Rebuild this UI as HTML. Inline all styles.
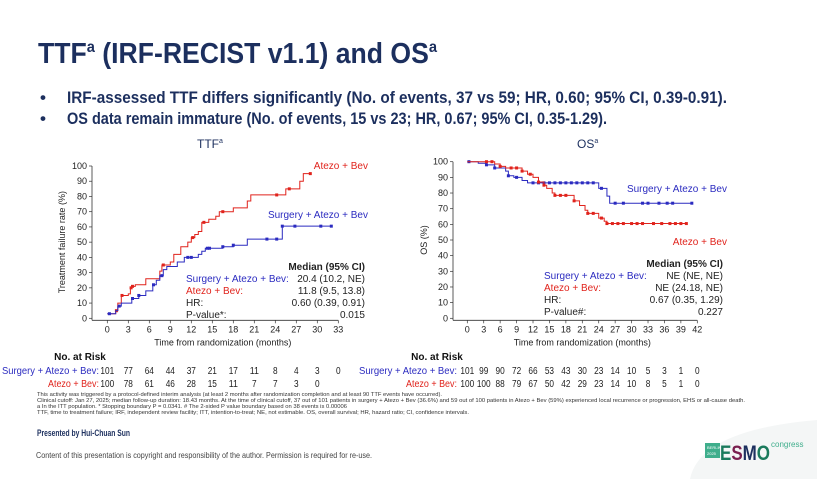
<!DOCTYPE html>
<html><head><meta charset="utf-8"><style>
html,body{margin:0;padding:0;background:#fff;}
svg{display:block;font-family:"Liberation Sans Narrow","Liberation Sans",sans-serif;}
</style></head><body>
<svg id="s" width="817" height="479" viewBox="0 0 817 479">
<rect x="0" y="0" width="817" height="479" fill="#fff"/>
<path d="M690 479 Q700 430 817 420 L817 479 Z" fill="#f4f6f6"/>
<text x="38" y="63" font-size="29" font-weight="bold" fill="#1c2f5e" textLength="399" lengthAdjust="spacingAndGlyphs">TTF<tspan font-size="16" dy="-11">a</tspan><tspan dy="11"> (IRF-RECIST v1.1) and OS</tspan><tspan font-size="16" dy="-11">a</tspan></text>
<g font-size="17" font-weight="bold" fill="#1c2f5e">
<text x="40" y="103">•</text>
<text x="67" y="103" textLength="660" lengthAdjust="spacingAndGlyphs">IRF-assessed TTF differs significantly (No. of events, 37 vs 59; HR, 0.60; 95% CI, 0.39-0.91).</text>
<text x="40" y="124">•</text>
<text x="67" y="124" textLength="540" lengthAdjust="spacingAndGlyphs">OS data remain immature (No. of events, 15 vs 23; HR, 0.67; 95% CI, 0.35-1.29).</text>
</g>
<text x="197" y="148" font-size="12" fill="#1c2f5e">TTF<tspan font-size="7" dy="-5">a</tspan></text>
<text x="577" y="148" font-size="12" fill="#1c2f5e">OS<tspan font-size="7" dy="-5">a</tspan></text>
<g id="c1"></g><g id="c2"></g>
<g font-size="5" fill="#333">
<text x="37" y="396" textLength="405" lengthAdjust="spacingAndGlyphs">This activity was triggered by a protocol-defined interim analysis (at least 2 months after randomization completion and at least 90 TTF events have occurred).</text>
<text x="37" y="402" textLength="708" lengthAdjust="spacingAndGlyphs">Clinical cutoff: Jan 27, 2025; median follow-up duration: 18.43 months. At the time of clinical cutoff, 37 out of 101 patients in surgery + Atezo + Bev (36.6%) and 59 out of 100 patients in Atezo + Bev (59%) experienced local recurrence or progression, EHS or all-cause death.</text>
<text x="37" y="408" textLength="310" lengthAdjust="spacingAndGlyphs">a In the ITT population. * Stopping boundary P = 0.0341. # The 2-sided P value boundary based on 38 events is 0.00006</text>
<text x="37" y="414" textLength="432" lengthAdjust="spacingAndGlyphs">TTF, time to treatment failure; IRF, independent review facility; ITT, intention-to-treat; NE, not estimable. OS, overall survival; HR, hazard ratio; CI, confidence intervals.</text>
</g>
<text x="37" y="436" font-size="9" font-weight="bold" fill="#1c2f5e" textLength="93" lengthAdjust="spacingAndGlyphs">Presented by Hui-Chuan Sun</text>
<text x="36" y="458" font-size="8" fill="#444" textLength="336" lengthAdjust="spacingAndGlyphs">Content of this presentation is copyright and responsibility of the author. Permission is required for re-use.</text>
<g>
<rect x="705" y="443" width="15" height="15" fill="#3fae8c"/>
<text x="707" y="449" font-size="4" fill="#fff">BERLIN</text><text x="707" y="455" font-size="4" fill="#fff">2025</text>
<text x="720" y="460" font-size="21" font-weight="bold" fill="#1a7a5c" textLength="50" lengthAdjust="spacingAndGlyphs">E<tspan fill="#7a1f4f">S</tspan><tspan fill="#1c2f5e">M</tspan>O</text>
<text x="771" y="447" font-size="8" fill="#3fae8c">congress</text>
</g>
</svg>
<script>
// ---- TTF data ----
const ttfTicksX=[0,3,6,9,12,15,18,21,24,27,30,33];
const ttfTicksY=[0,10,20,30,40,50,60,70,80,90,100];
const ttfRedT=[0,1.2,1.5,2,3,3.3,3.5,4,5.5,7.5,7.8,9,9.5,10.5,11.5,12,12.5,13,13.5,14.5,15.5,16,18,20,20.5,25.5,27.5,28];
const ttfRedV=[3,5,10,15,16,20,21,22,26,31,35,37,42,47,50,53,55,57,63,65,67,70,72.5,77,81,85,90,95];
const ttfRedEnd=29;
const ttfBlueT=[0,1.2,1.5,2,3.5,4.5,5.5,6.5,7,7.5,8,8.5,10,11,13,13.5,14,16.5,18,20,25];
const ttfBlueV=[3,5,8,10,13,15,18,22,25,28,32,34,37,40,42,44,46,47,48,52,60.5];
const ttfBlueEnd=32;
const ttfRedCens=[1.3,2.1,3.4,3.6,8,12.2,13.8,16.5,24.2,26,29];
const ttfBlueCens=[0.3,1.7,3.6,4.5,6.6,7.8,11.5,12,14.3,14.6,16.5,18,22.8,24.2,25,26.8,30.5,32];
const ttfRiskBlue=[101,77,64,44,37,21,17,11,8,4,3,0];
const ttfRiskRed=[100,78,61,46,28,15,11,7,7,3,0];
// ---- OS data ----
const osTicksX=[0,3,6,9,12,15,18,21,24,27,30,33,36,39,42];
const osTicksY=[0,10,20,30,40,50,60,70,80,90,100];
const osBlueT=[0,2,3.5,5,7,7.5,8.5,10,11,24,25.5,26];
const osBlueV=[100,99,98,96,94,91,90,88,86.5,83,78,73.5];
const osBlueEnd=41;
const osRedT=[0,5,6,7,10,11,12,13,14,14.5,15.5,16,19.5,20.5,21.5,22,24,25,25.5];
const osRedV=[100,98.5,97,96,94,92,90,87,85,83,80,78.5,75,72,69,67,64,62,60.5];
const osRedEnd=40;
const osBlueCens=[0.3,3.5,5,7.5,9,12,13,14,15,16,17,18,19,20,21,22,23,24.5,27,28.5,32,33,35,36.5,37.5,41];
const osRedCens=[3.5,4.5,6,8,9,10,11.5,13,14,16,17,18,19.5,22,23,24.5,25.5,26.5,27.5,28.5,30,31,32,34,35.5,37,38,39,40];
const osRiskBlue=[101,99,90,72,66,53,43,30,23,14,10,5,3,1,0];
const osRiskRed=[100,100,88,79,67,50,42,29,23,14,10,8,5,1,0];

const NS='http://www.w3.org/2000/svg';
const RED='#e0231c',BLUE='#2b2bc0';
function mk(p,tag,at){const e=document.createElementNS(NS,tag);for(const k in at)e.setAttribute(k,at[k]);p.appendChild(e);return e;}
function txt(p,x,y,s,at){const e=mk(p,'text',Object.assign({x:x,y:y},at));e.textContent=s;return e;}

function chart(g,o){
  const sx=t=>o.x0+(t-o.xmin)*(o.x1-o.x0)/(o.xmax-o.xmin);
  const sy=v=>o.y0-(v)*(o.y0-o.y1)/100;
  const ax=mk(g,'path',{d:`M${o.axX} ${sy(100)} V${o.y0+2} M${o.axX} ${o.y0+2} H${sx(o.xmax)}`,stroke:'#333',fill:'none','stroke-width':0.8});
  
  
  o.ty.forEach(v=>{
    mk(g,'line',{x1:o.axX-3,x2:o.axX,y1:sy(v),y2:sy(v),stroke:'#333','stroke-width':0.7});
    const t=txt(g,o.axX-5,sy(v)+3,String(v),{'font-size':9,'text-anchor':'end',fill:'#222'});
    
    
  });
  o.tx.forEach(v=>{
    mk(g,'line',{x1:sx(v),x2:sx(v),y1:o.y0+2,y2:o.y0+5,stroke:'#333','stroke-width':0.7});
    const t=txt(g,sx(v),o.y0+14,String(v),{'font-size':9,'text-anchor':'middle',fill:'#222'});
    
    
  });
  const xt=txt(g,(sx(0)+sx(o.xmax))/2,o.y0+27,'Time from randomization (months)',{'font-size':9,'text-anchor':'middle',fill:'#222'});
  
  
  const yc=(sy(0)+sy(100))/2;
  const yt=txt(g,o.ytX,yc,o.ytitle,{'font-size':9,'text-anchor':'middle',fill:'#222',transform:`rotate(-90 ${o.ytX} ${yc})`});
  
  
  o.series.forEach(s=>{
    let d=`M${sx(s.t[0])} ${sy(s.v[0])}`;
    for(let i=1;i<s.t.length;i++){d+=` H${sx(s.t[i])} V${sy(s.v[i])}`;}
    d+=` H${sx(s.end)}`;
    const p=mk(g,'path',{d:d,stroke:s.c,fill:'none','stroke-width':1});
    
    
    s.cens.forEach(t=>{
      let v=s.v[0];for(let i=0;i<s.t.length;i++)if(s.t[i]<=t)v=s.v[i];
      const r=mk(g,'rect',{x:sx(t)-1.5,y:sy(v)-1.5,width:3,height:3,fill:s.c});
      
      
    });
    const l=txt(g,s.lx,s.ly,s.label,{'font-size':10,'text-anchor':'end',fill:s.c});
    
    
  });
  const b=o.box;
  const rows=[['',b.h,'#222','bold'],['Surgery + Atezo + Bev:',b.a,BLUE,''],['Atezo + Bev:',b.b,RED,''],['HR:',b.hr,'#222',''],[b.pl,b.p,'#222','']];
  rows.forEach((r,i)=>{
    const y=b.y+i*12;
    if(r[0]){const t=txt(g,b.lx,y,r[0],{'font-size':10,fill:r[2]});}
    const t2=txt(g,b.rx,y,r[1],{'font-size':10,'text-anchor':'end',fill:'#222','font-weight':r[3]||'normal'});
    
    
  });
  const nt=txt(g,o.riskTitleX,360,'No. at Risk',{'font-size':10,'font-weight':'bold','text-anchor':'middle',fill:'#111'});
  
  
  [[o.riskBlue,BLUE,'Surgery + Atezo + Bev:',374,o.riskLabelW1],[o.riskRed,RED,'Atezo + Bev:',387,o.riskLabelW2]].forEach(r=>{
    const lb=txt(g,o.riskLabelX-r[4],r[3],r[2],{'font-size':10,fill:r[1],textLength:r[4],lengthAdjust:'spacingAndGlyphs'});
    
    
    r[0].forEach((n,i)=>{
      const t=txt(g,sx(o.tx[i]),r[3],String(n),{'font-size':10,'text-anchor':'middle',fill:'#222',textLength:String(n).length*4.6,lengthAdjust:'spacingAndGlyphs'});
      
      
    });
  });
}
chart(document.getElementById('c1'),{x0:107.3,x1:338.3,xmin:0,xmax:33,y0:318.3,y1:166,axX:92,ytX:65,ytitle:'Treatment failure rate (%)',tx:ttfTicksX,ty:ttfTicksY,
 series:[{name:'ttf-atezo-bev',t:ttfRedT,v:ttfRedV,end:ttfRedEnd,cens:ttfRedCens,c:RED,label:'Atezo + Bev',lx:368,ly:169},
         {name:'ttf-surgery',t:ttfBlueT,v:ttfBlueV,end:ttfBlueEnd,cens:ttfBlueCens,c:BLUE,label:'Surgery + Atezo + Bev',lx:368,ly:218}],
 box:{y:270,lx:186,rx:365,h:'Median (95% CI)',a:'20.4 (10.2, NE)',b:'11.8 (9.5, 13.8)',hr:'0.60 (0.39, 0.91)',pl:'P-value*:',p:'0.015'},
 riskBlue:ttfRiskBlue,riskRed:ttfRiskRed,riskTitleX:80,riskLabelX:99,riskLabelW1:97,riskLabelW2:51});
chart(document.getElementById('c2'),{x0:467.3,x1:697.3,xmin:0,xmax:42,y0:318.3,y1:161.7,axX:453,ytX:427,ytitle:'OS (%)',tx:osTicksX,ty:osTicksY,
 series:[{name:'os-surgery',t:osBlueT,v:osBlueV,end:osBlueEnd,cens:osBlueCens,c:BLUE,label:'Surgery + Atezo + Bev',lx:727,ly:192},
         {name:'os-atezo-bev',t:osRedT,v:osRedV,end:osRedEnd,cens:osRedCens,c:RED,label:'Atezo + Bev',lx:727,ly:245}],
 box:{y:267,lx:544,rx:723,h:'Median (95% CI)',a:'NE (NE, NE)',b:'NE (24.18, NE)',hr:'0.67 (0.35, 1.29)',pl:'P-value#:',p:'0.227'},
 riskBlue:osRiskBlue,riskRed:osRiskRed,riskTitleX:437,riskLabelX:457,riskLabelW1:98,riskLabelW2:51});
</script>
</body></html>
